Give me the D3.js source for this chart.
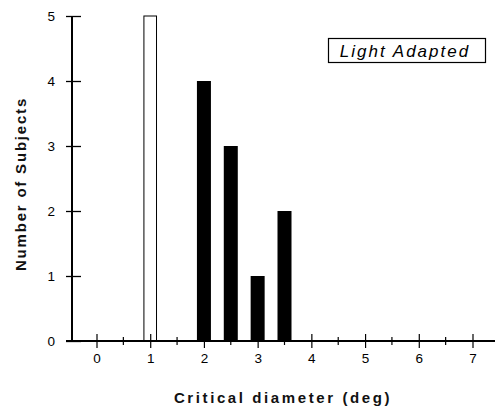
<!DOCTYPE html>
<html><head><meta charset="utf-8">
<script src="https://cdn.jsdelivr.net/npm/d3@7"></script>
<style>
html,body{margin:0;padding:0;background:#fff;}
svg{display:block;font-family:"Liberation Sans",Arial,Helvetica,sans-serif;}
</style></head>
<body>
<svg id="chart" width="495" height="409"></svg>
<script>
// Data
const openCategories = [1];
const openValues = [5];
const filledCategories = [2, 2.5, 3, 3.5];
const filledValues = [4, 3, 1, 2];
const xTickValues = [0, 1, 2, 3, 4, 5, 6, 7];
const xMinorTicks = [0.5, 1.5, 2.5, 3.5, 4.5, 5.5, 6.5];
const yTickValues = [0, 1, 2, 3, 4, 5];
const legendLabel = "Light Adapted";
const xTitle = "Critical diameter (deg)";
const yTitle = "Number of Subjects";

const svg = d3.select("#chart");
const x = d3.scaleLinear().domain([0, 7]).range([96.5, 472.5]);
const y = d3.scaleLinear().domain([0, 5]).range([341, 16]);
const axisLeftX = 72;
const barW = 14;

// Bars
svg.append("g").selectAll("rect").data(filledCategories.map((c,i)=>({c, v:filledValues[i]})))
  .join("rect")
  .attr("x", d => x(d.c) - barW/2)
  .attr("y", d => y(d.v))
  .attr("width", barW)
  .attr("height", d => y(0) - y(d.v))
  .attr("fill", "#000");

svg.append("g").selectAll("rect").data(openCategories.map((c,i)=>({c, v:openValues[i]})))
  .join("rect")
  .attr("x", d => x(d.c) - 6.3)
  .attr("y", d => y(d.v))
  .attr("width", 12.6)
  .attr("height", d => y(0) - y(d.v))
  .attr("fill", "#fff")
  .attr("stroke", "#000")
  .attr("stroke-width", 1);

// X axis
const xAxis = d3.axisBottom(x).tickValues(xTickValues).tickFormat(d3.format("d")).tickSizeInner(7).tickSizeOuter(0).tickPadding(8);
const gx = svg.append("g").attr("transform", `translate(0,${y(0)})`).call(xAxis);
gx.select(".domain").remove();
gx.selectAll(".tick line").attr("y1", -7).attr("y2", 7).attr("stroke-width", 1.2);
gx.selectAll(".tick text").attr("font-size", 13.5).attr("fill", "#000").attr("font-family", "Liberation Sans, Arial, sans-serif").attr("y", 12).attr("dy", "0.71em");
gx.append("line").attr("x1", axisLeftX - 6).attr("x2", 495).attr("y1", 0).attr("y2", 0).attr("stroke", "#000").attr("stroke-width", 2);
gx.selectAll(".minor").data(xMinorTicks).join("line").attr("class","minor")
  .attr("x1", d => x(d)).attr("x2", d => x(d)).attr("y1", -4).attr("y2", 4)
  .attr("stroke", "#000").attr("stroke-width", 1.2);

// Y axis
const yAxis = d3.axisLeft(y).tickValues(yTickValues).tickFormat(d3.format("d")).tickSizeInner(6).tickSizeOuter(0).tickPadding(11);
const gy = svg.append("g").attr("transform", `translate(${axisLeftX},0)`).call(yAxis);
gy.select(".domain").remove();
gy.selectAll(".tick line").attr("x1", -6).attr("x2", 9).attr("stroke-width", 1.3);
gy.selectAll(".tick text").attr("font-size", 13.5).attr("fill", "#000").attr("font-family", "Liberation Sans, Arial, sans-serif");
gy.append("line").attr("x1", 0).attr("x2", 0).attr("y1", y(5)).attr("y2", y(0) + 1).attr("stroke", "#000").attr("stroke-width", 2);

// Titles
svg.append("text").attr("x", 283).attr("y", 403).attr("text-anchor", "middle")
  .attr("font-size", 15).attr("font-weight", "bold").attr("letter-spacing", 2.6)
  .attr("fill", "#111").text(xTitle);
svg.append("text").attr("transform", "translate(26,184) rotate(-90)").attr("text-anchor", "middle")
  .attr("font-size", 15).attr("font-weight", "bold").attr("letter-spacing", 1.8)
  .attr("fill", "#111").text(yTitle);

// Legend box
svg.append("rect").attr("x", 328.5).attr("y", 38.5).attr("width", 157).attr("height", 24)
  .attr("fill", "#fff").attr("stroke", "#000").attr("stroke-width", 1.2);
svg.append("text").attr("x", 405).attr("y", 57).attr("text-anchor", "middle")
  .attr("font-size", 17).attr("font-style", "italic").attr("letter-spacing", 2)
  .attr("fill", "#000").text(legendLabel);
</script>
</body></html>
